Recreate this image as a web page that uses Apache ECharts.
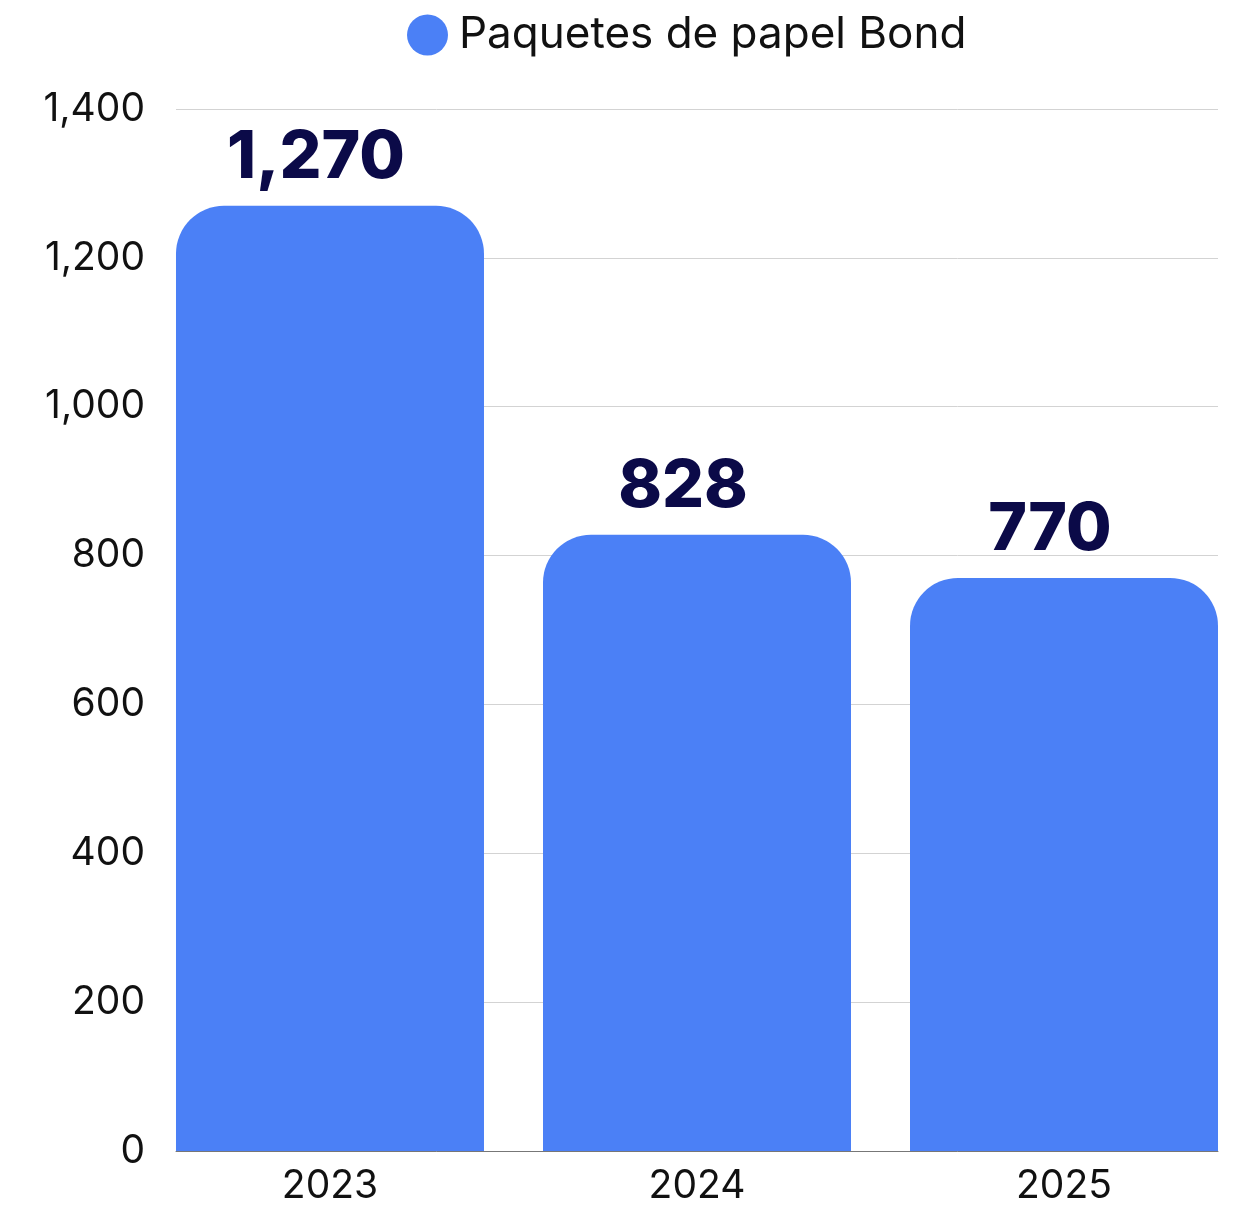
<!DOCTYPE html>
<html>
<head>
<meta charset="utf-8">
<script src="https://cdn.jsdelivr.net/npm/echarts@6/dist/echarts.min.js"></script>
<style>
html,body{margin:0;padding:0;background:#fff;}
#main{width:1234px;height:1209px;}
</style>
</head>
<body>
<div id="main"></div>
<script>
const categories = ['2023', '2024', '2025'];
const values = [1270, 828, 770];
const seriesName = 'Paquetes de papel Bond';
const yTicks = [0, 200, 400, 600, 800, 1000, 1200, 1400];

const FONT = 'Inter, "Open Sans", sans-serif';
const chart = echarts.init(document.getElementById('main'), null, {renderer: 'canvas'});
const fmt = v => v.toLocaleString('en-US');

chart.setOption({
  animation: false,
  backgroundColor: '#ffffff',
  legend: {
    left: 402,
    top: 8,
    icon: 'circle',
    itemWidth: 41,
    itemHeight: 41,
    itemGap: 10,
    textStyle: {fontFamily: FONT, fontSize: 44, color: '#111111', padding: [0, 0, 0, 6]},
    data: [seriesName]
  },
  grid: {left: 176, right: 16, top: 109, bottom: 58, containLabel: false},
  xAxis: {
    type: 'value',
    min: -0.4196,
    max: 2.4196,
    splitLine: {show: false},
    axisLine: {show: true, lineStyle: {color: '#777777', width: 1}},
    axisTick: {show: false},
    axisLabel: {
      customValues: categories.map((c, i) => i),
      formatter: v => categories[Math.round(v)],
      fontFamily: FONT, fontSize: 39, color: '#111111', margin: 16
    }
  },
  yAxis: {
    type: 'value',
    min: 0,
    max: 1400,
    interval: 200,
    axisLine: {show: false},
    axisTick: {show: false},
    splitLine: {lineStyle: {color: '#d3d3d3', width: 1}},
    axisLabel: {
      customValues: yTicks,
      formatter: v => fmt(v),
      fontFamily: FONT, fontSize: 39, color: '#111111', margin: 31
    }
  },
  series: [{
    name: seriesName,
    type: 'bar',
    barWidth: 308,
    data: values.map((v, i) => [i, v]),
    itemStyle: {color: '#4b80f6', borderRadius: [48, 48, 0, 0]},
    label: {
      show: true,
      position: 'top',
      distance: 15,
      offset: [-14, 0],
      formatter: p => fmt(p.value[1]),
      fontFamily: FONT,
      fontWeight: 800,
      fontSize: 66,
      color: '#0b0a48'
    }
  }]
});
</script>
</body>
</html>
